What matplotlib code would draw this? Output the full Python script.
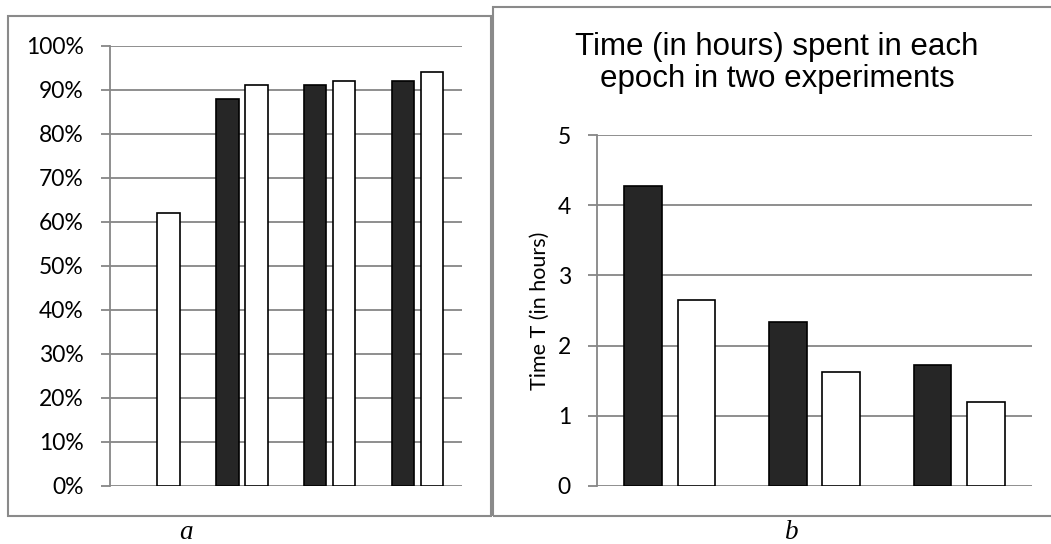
import numpy as np
import matplotlib
matplotlib.use("Agg")
import matplotlib.pyplot as plt
from matplotlib.patches import Rectangle
from matplotlib.ticker import PercentFormatter

# panel a: accuracy per group (first group has no dark bar)
a_groups = [0, 1, 2, 3]
a_dark = [np.nan, 0.88, 0.91, 0.92]
a_light = [0.62, 0.91, 0.92, 0.94]

# panel b: time in hours per epoch
b_groups = [0, 1, 2]
b_dark = [4.27, 2.33, 1.73]
b_light = [2.65, 1.63, 1.19]

title_b = "Time (in hours) spent in each\nepoch in two experiments"
ylabel_b = "Time T (in hours)"

W, H = 1051, 544
GRID = "#868686"
BORDER = "#8a8a8a"
DARK = "#262626"
TICKFONT = "Lato"

fig = plt.figure(figsize=(W / 100, H / 100), dpi=100)

def px_axes(x0, x1, y0, y1):
    return fig.add_axes([x0 / W, 1 - y1 / H, (x1 - x0) / W, (y1 - y0) / H])

def style(ax):
    ax.set_axisbelow(True)
    ax.yaxis.grid(True, color=GRID, linewidth=1.3)
    for s in ["top", "right", "bottom"]:
        ax.spines[s].set_visible(False)
    ax.spines["left"].set_color(GRID)
    ax.spines["left"].set_linewidth(1.3)
    ax.tick_params(axis="y", direction="out", length=6.5, width=1.3, color=GRID,
                   pad=12.5, labelsize=16.5)
    ax.tick_params(axis="x", length=0, labelbottom=False)
    for lab in ax.get_yticklabels():
        lab.set_fontfamily(TICKFONT)

# ---- panel a
axa = px_axes(110, 461.7, 45.7, 485.7)
w, off = 0.254, 0.165
xa = np.array(a_groups)
axa.bar(xa - off, a_dark, width=w, color=DARK, edgecolor="black", linewidth=1.2)
axa.bar(xa + off, a_light, width=w, color="white", edgecolor="black", linewidth=1.2)
axa.set_xlim(-0.5, 3.5)
axa.set_ylim(0, 1)
axa.set_yticks(np.arange(0, 1.01, 0.1))
axa.yaxis.set_major_formatter(PercentFormatter(1.0, decimals=0))
style(axa)

# ---- panel b
axb = px_axes(597.3, 1031.7, 135, 486)
w, off = 0.26, 0.184
xb = np.array(b_groups)
axb.bar(xb - off, b_dark, width=w, color=DARK, edgecolor="black", linewidth=1.2)
axb.bar(xb + off, b_light, width=w, color="white", edgecolor="black", linewidth=1.2)
axb.set_xlim(-0.5, 2.5)
axb.set_ylim(0, 5)
axb.set_yticks(range(0, 6))
style(axb)
axb.set_ylabel(ylabel_b, fontsize=15.5, fontfamily=TICKFONT, labelpad=5.5)

fig.text(777 / W, 1 - 32 / H, title_b, ha="center", va="top", fontsize=22.5,
         fontfamily="Liberation Sans", linespacing=1.07)

# panel frames
fig.patches.append(Rectangle((8.3 / W, 1 - 515.7 / H), (490.7 - 8.3) / W, (515.7 - 15.7) / H,
                             transform=fig.transFigure, fill=False, edgecolor=BORDER, linewidth=1.5))
fig.patches.append(Rectangle((492.7 / W, 1 - 515.7 / H), (1070 - 492.7) / W, (515.7 - 7.3) / H,
                             transform=fig.transFigure, fill=False, edgecolor=BORDER, linewidth=1.5))

# sub-figure letters
fig.text(186.5 / W, 1 - 539 / H, "a", ha="center", va="baseline", fontsize=19.5,
         fontfamily="Liberation Serif", style="italic")
fig.text(791.7 / W, 1 - 539 / H, "b", ha="center", va="baseline", fontsize=19.5,
         fontfamily="Liberation Serif", style="italic")

fig.savefig("out.png", dpi=100)
